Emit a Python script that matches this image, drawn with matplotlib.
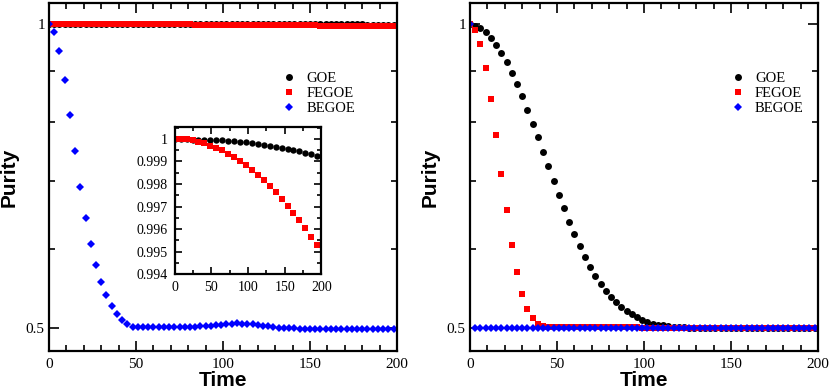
import numpy as np
import matplotlib
matplotlib.use('Agg')
import matplotlib.pyplot as plt
from matplotlib.ticker import FixedLocator, FixedFormatter, NullFormatter, MultipleLocator

# Time grid of the main panels (one point every 3 time units)
time = np.arange(0, 199, 3)
# Time grid of the inset
time_inset = np.arange(25) * 8.1

# Left panel
goe_left = [1.0] * 40 + [0.9999] * 14 + [0.9998] * 7 + [0.9997] * 4 + [0.9996, 0.9993]
fegoe_left = ([1.0] * 16 + [0.9999] * 8 + [0.9998] * 4 + [0.9997] * 4 + [0.9996] * 3
              + [0.9995, 0.9994, 0.9993, 0.9992, 0.9991, 0.9990, 0.9989, 0.9988, 0.9987,
                 0.9986, 0.9985, 0.9984, 0.9983, 0.9981, 0.9980, 0.9978, 0.9977, 0.9975,
                 0.9974, 0.9972, 0.9971, 0.9969, 0.9968, 0.9966, 0.9964, 0.9963, 0.9961,
                 0.9959, 0.9957, 0.9956, 0.9954, 0.9953])
begoe_left = ([1.0, 0.9827, 0.9418, 0.8816, 0.8140, 0.7489, 0.6909, 0.6436, 0.6062,
               0.5779, 0.5564, 0.5394, 0.5267, 0.5168, 0.5094, 0.5046, 0.5022, 0.5015,
               0.5016, 0.5017, 0.5018, 0.5018, 0.5019, 0.5019, 0.5019, 0.5019, 0.5019,
               0.5020, 0.5021, 0.5023, 0.5026, 0.5031, 0.5037, 0.5044, 0.5051, 0.5056,
               0.5058, 0.5057, 0.5053, 0.5047, 0.5040, 0.5032, 0.5024, 0.5016, 0.5010,
               0.5005, 0.5002, 0.5000, 0.4998, 0.4997]
              + [0.4997] * 17)

# Inset (zoom of GOE and FEGOE of the left panel)
goe_inset = [1.0, 1.0, 0.99999, 0.99997, 0.99996, 0.99996, 0.99994, 0.99993, 0.99993,
             0.99991, 0.99990, 0.99988, 0.99986, 0.99983, 0.99978, 0.99974, 0.99970,
             0.99965, 0.99961, 0.99955, 0.99951, 0.99945, 0.99939, 0.99933, 0.99926]
fegoe_inset = [1.0, 1.0, 0.99999, 0.99996, 0.99988, 0.99980, 0.99970, 0.99961, 0.99949,
               0.99935, 0.99919, 0.99903, 0.99886, 0.99864, 0.99841, 0.99816, 0.99790,
               0.99764, 0.99733, 0.99704, 0.99672, 0.99639, 0.99604, 0.99567, 0.99529]

# Right panel
goe_right = ([1.0, 0.9968, 0.9909, 0.9819, 0.9699, 0.9546, 0.9373, 0.9177, 0.8956,
              0.8726, 0.8485, 0.8236, 0.7978, 0.7733, 0.7478, 0.7240, 0.7006, 0.6783,
              0.6575, 0.6381, 0.6200, 0.6037, 0.5887, 0.5754, 0.5637, 0.5535, 0.5447,
              0.5373, 0.5309, 0.5257, 0.5209, 0.5166, 0.5127, 0.5099, 0.5075, 0.5057,
              0.5045, 0.5036, 0.5028, 0.5022, 0.5017, 0.5013, 0.5010, 0.5007, 0.5005,
              0.5004, 0.5003, 0.5002, 0.5001]
             + [0.5] * 18)
fegoe_right = ([1.0, 0.9878, 0.9554, 0.9045, 0.8427, 0.7772, 0.7118, 0.6544, 0.6054,
                0.5682, 0.5414, 0.5232, 0.5122, 0.5057, 0.5026, 0.5015, 0.5013, 0.5013,
                0.5013, 0.5014, 0.5015, 0.5016, 0.5017, 0.5018, 0.5018, 0.5019, 0.5019,
                0.5019, 0.5018, 0.5017, 0.5016, 0.5014, 0.5012, 0.5010, 0.5008, 0.5006,
                0.5005, 0.5004, 0.5003, 0.5002, 0.5002]
               + [0.5001] * 26)
begoe_right = [1.0] + [0.5] * 66

labels = ['GOE', 'FEGOE', 'BEGOE']
colors = ['black', 'red', 'blue']
markers = ['o', 's', 'D']
sizes = [5.0, 4.3, 3.9]

serif = 'Liberation Serif'
sans = 'Liberation Sans'


def style_main(ax):
    ax.set_yscale('log')
    ax.set_xlim(0, 200)
    ax.set_ylim(0.475, 1.05)
    ax.yaxis.set_major_locator(FixedLocator([0.5, 1.0]))
    ax.yaxis.set_major_formatter(FixedFormatter(['0.5', '1']))
    ax.yaxis.set_minor_locator(FixedLocator([0.6, 0.7, 0.8, 0.9]))
    ax.yaxis.set_minor_formatter(NullFormatter())
    ax.xaxis.set_major_locator(MultipleLocator(50))
    ax.xaxis.set_minor_locator(MultipleLocator(10))
    ax.tick_params(which='both', direction='in', top=True, right=True, width=1.2)
    ax.tick_params(which='major', length=7)
    ax.tick_params(which='minor', length=4)
    ax.tick_params(axis='x', pad=5)
    ax.tick_params(axis='y', pad=3)
    for lab in ax.get_xticklabels() + ax.get_yticklabels():
        lab.set_fontfamily(serif)
        lab.set_fontsize(11)
    for sp in ax.spines.values():
        sp.set_linewidth(1.6)
    ax.set_xlabel('Time', fontfamily=sans, fontweight='bold', fontsize=15)
    ax.set_ylabel('Purity', fontfamily=sans, fontweight='bold', fontsize=15)
    ax.xaxis.set_label_coords(0.5, -0.058)
    ax.yaxis.set_label_coords(-0.088, 0.5)


def draw(ax, series, t):
    for ys, lab, c, m, s in zip(series, labels, colors, markers, sizes):
        ax.plot(t, ys, linestyle='none', marker=m, color=c, markersize=s,
                markeredgewidth=0, label=lab)


fig = plt.figure(figsize=(8.3, 3.89), dpi=100)
ax1 = fig.add_axes([49 / 830, 38 / 389, 348 / 830, 348 / 389])
ax2 = fig.add_axes([470 / 830, 38 / 389, 348 / 830, 348 / 389])

draw(ax1, [goe_left, fegoe_left, begoe_left], time)
draw(ax2, [goe_right, fegoe_right, begoe_right], time)
style_main(ax1)
style_main(ax2)

for ax, x0 in [(ax1, 0.668), (ax2, 0.748)]:
    ax.legend(loc='upper left', bbox_to_anchor=(x0, 0.803), frameon=False,
              prop={'family': serif, 'size': 10.5}, handlelength=1.0,
              handletextpad=0.7, labelspacing=0.12, borderpad=0, borderaxespad=0)

# Inset
axin = fig.add_axes([174.7 / 830, (389 - 274.3) / 389, 146.6 / 830, 147.6 / 389])
axin.plot(time_inset, goe_inset, linestyle='none', marker='o', color='black',
          markersize=4.6, markeredgewidth=0)
axin.plot(time_inset, fegoe_inset, linestyle='none', marker='s', color='red',
          markersize=4.4, markeredgewidth=0)
axin.set_xlim(0, 200)
axin.set_ylim(0.994, 1.00054)
axin.xaxis.set_major_locator(MultipleLocator(50))
axin.xaxis.set_minor_locator(MultipleLocator(25))
axin.yaxis.set_major_locator(FixedLocator([0.994, 0.995, 0.996, 0.997, 0.998, 0.999, 1.0]))
axin.yaxis.set_major_formatter(FixedFormatter(['0.994', '0.995', '0.996', '0.997',
                                               '0.998', '0.999', '1']))
axin.yaxis.set_minor_locator(MultipleLocator(0.0005))
axin.tick_params(which='both', direction='in', top=True, right=True, width=1.2)
axin.tick_params(which='major', length=5)
axin.tick_params(which='minor', length=3)
axin.tick_params(axis='x', pad=5)
axin.tick_params(axis='y', pad=5)
for lab in axin.get_xticklabels() + axin.get_yticklabels():
    lab.set_fontfamily(serif)
    lab.set_fontsize(10)
for sp in axin.spines.values():
    sp.set_linewidth(1.6)

fig.savefig('out.png', dpi=100)
